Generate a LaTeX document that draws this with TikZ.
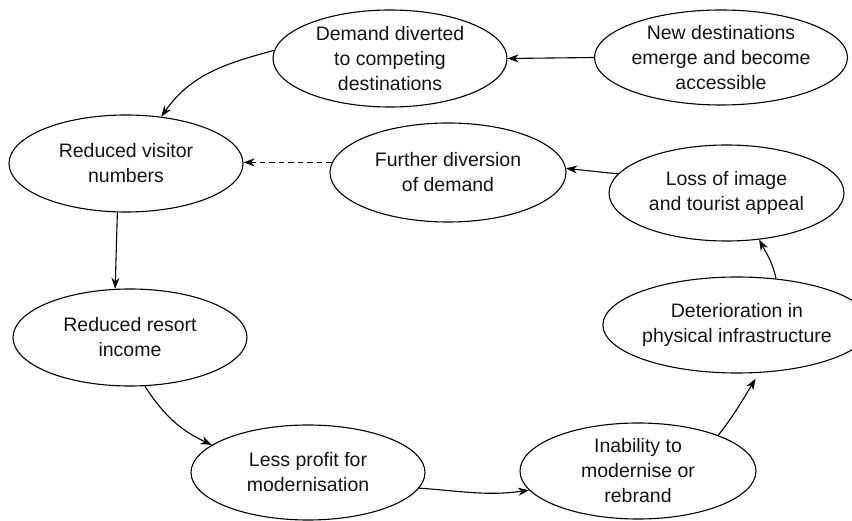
\documentclass[tikz,border=0pt]{standalone}
\usepackage{fontspec}
\setmainfont{Liberation Sans}
\usetikzlibrary{shapes.geometric,arrows.meta}
\begin{document}
\begin{tikzpicture}[x=1pt,y=-1pt,
  bub/.style={ellipse,draw,line width=1.1pt,inner sep=0pt,align=center,
    minimum width=234pt,minimum height=97pt,text=black!92,
    font=\fontsize{19.5}{25}\selectfont},
  arr/.style={line width=1.1pt,-{Stealth[length=11pt,width=8pt,inset=3.5pt]}}]
\useasboundingbox (0,0) rectangle (852,521);
\node[bub] (dd) at (390,58.5) {Demand diverted\\to competing\\destinations};
\node[bub,minimum width=235pt,minimum height=95pt] (nd) at (721,57.5) {New destinations\\emerge and become\\accessible};
\node[bub] (rv) at (126,163.5) {Reduced visitor\\numbers};
\node[bub,minimum width=236pt,minimum height=99pt] (fd) at (448,172.5) {Further diversion\\of demand};
\node[bub,minimum width=235pt,minimum height=96pt] (li) at (726.5,193) {Loss of image\\and tourist appeal};
\node[bub] (rr) at (130,337.5) {Reduced resort\\income};
\node[bub,minimum height=95pt] (lp) at (308,472.5) {Less profit for\\modernisation};
\node[bub,minimum width=236pt,minimum height=96pt] (ib) at (638,471) {Inability to\\modernise or\\rebrand};
\node[bub,minimum width=228pt,minimum height=96pt] (de) at (737,325) {Deterioration in\\physical infrastructure};

\draw[arr] (nd.west) -- (dd.east);
\draw[arr] (dd.176) to[out=195,in=55] (rv.53);
\draw[arr,dash pattern=on 5.5pt off 4pt] (fd.175) -- (fd.175 -| rv.east);
\draw[arr] (li.170) -- (fd.2);
\draw[arr] (de.50) to[out=102,in=-62] (li.-55);
\draw[arr] (rv.-100) -- (rr.107);
\draw[arr] (rr.-73) to[out=-57,in=155] (lp.164);
\draw[arr] (lp.-8) to[out=-4,in=188] (ib.190);
\draw[arr,shorten >=7pt] (ib.24) to[out=52,in=238] (de.-65);
\end{tikzpicture}
\end{document}
